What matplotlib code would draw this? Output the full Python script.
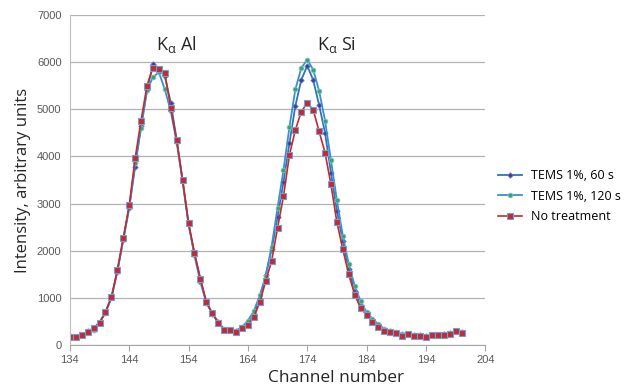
import matplotlib
matplotlib.use("Agg")
import matplotlib.pyplot as plt
import numpy as np

### Data

channels = np.arange(134, 201)

no_treatment = [
    178, 172, 207, 285, 357, 478, 700, 1013, 1585, 2270,
    2960, 3960, 4760, 5500, 5880, 5850, 5760, 5030, 4340, 3500,
    2590, 1950, 1410, 914, 678, 478, 321, 325, 285, 357,
    435, 593, 906, 1356, 1784, 2484, 3154, 4030, 4560, 4950,
    5130, 4990, 4530, 4080, 3405, 2606, 2030, 1500, 1070, 785,
    642, 500, 392, 306, 285, 250, 200, 235, 200, 200,
    171, 214, 207, 221, 235, 292, 264,
]

tems_60 = [
    180, 175, 210, 290, 360, 480, 705, 1010, 1570, 2240,
    2930, 3780, 4650, 5400, 5950, 5850, 5700, 5140, 4350, 3480,
    2570, 1930, 1390, 905, 670, 480, 330, 330, 300, 370,
    450, 650, 980, 1480, 2030, 2710, 3460, 4280, 5070, 5620,
    5920, 5620, 5090, 4500, 3650, 2850, 2200, 1620, 1150, 840,
    660, 520, 410, 330, 300, 265, 230, 240, 215, 210,
    190, 220, 215, 230, 250, 295, 270,
]

tems_120 = [
    185, 180, 215, 295, 330, 470, 690, 1000, 1560, 2230,
    2900, 3850, 4600, 5400, 5680, 5780, 5420, 4960, 4300, 3480,
    2560, 1900, 1330, 900, 670, 490, 340, 340, 310, 380,
    520, 720, 1055, 1460, 2090, 2910, 3710, 4620, 5420, 5870,
    6050, 5840, 5390, 4760, 3920, 3070, 2320, 1710, 1260, 930,
    700, 560, 440, 350, 310, 270, 240, 245, 225, 215,
    200, 225, 220, 230, 250, 300, 270,
]

series_labels = ["TEMS 1%, 60 s", "TEMS 1%, 120 s", "No treatment"]

# upright greek in the peak labels
plt.rcParams["mathtext.fontset"] = "custom"
plt.rcParams["mathtext.rm"] = "Open Sans"
plt.rcParams["mathtext.it"] = "Open Sans"

### Plot

fig = plt.figure(figsize=(6.41, 3.90), dpi=100)
ax = fig.add_axes([0.109, 0.115, 0.648, 0.847])

ax.plot(channels, tems_60, color="#2e75b6", lw=1.3, marker="D", ms=2.8,
        mfc="#3f3f9a", mec="#6a7fc0", mew=0.5, label=series_labels[0])
ax.plot(channels, tems_120, color="#3a8fd0", lw=1.3, marker="o", ms=3.4,
        mfc="#2fae55", mec="#8ab6e0", mew=0.6, label=series_labels[1])
ax.plot(channels, no_treatment, color="#c42a2f", lw=1.2, marker="s", ms=4.2,
        mfc="#c42a2f", mec="#6f9fd6", mew=0.8, label=series_labels[2])

ax.set_xlim(134, 204)
ax.set_ylim(0, 7000)
ax.set_xticks(np.arange(134, 205, 10))
ax.set_yticks(np.arange(0, 7001, 1000))
ax.yaxis.grid(True, color="#b3b3b3", lw=0.9)
ax.set_axisbelow(True)

for s in ["top", "right"]:
    ax.spines[s].set_visible(False)
ax.spines["left"].set_color("#bfbfbf")
ax.spines["bottom"].set_color("#a6a6a6")
ax.tick_params(axis="y", length=0, labelsize=8, labelcolor="#595959", pad=6)
ax.tick_params(axis="x", length=4, color="#a6a6a6", labelsize=8,
               labelcolor="#595959", pad=3)
for lab in ax.get_xticklabels() + ax.get_yticklabels():
    lab.set_family("Liberation Sans")

ax.set_xlabel("Channel number", fontsize=12.5, family="Open Sans",
              color="#262626", va="top")
ax.xaxis.set_label_coords(0.64, -0.075)
ax.set_ylabel("Intensity, arbitrary units", fontsize=12, family="Open Sans",
              color="#262626", labelpad=4)

ax.text(152, 6250, r"K$_\alpha$ Al", fontsize=13, family="Open Sans",
        ha="center", va="baseline", color="#262626")
ax.text(179, 6250, r"K$_\alpha$ Si", fontsize=13, family="Open Sans",
        ha="center", va="baseline", color="#262626")

fig.legend(loc="upper left", bbox_to_anchor=(0.76, 0.595), frameon=False,
           handlelength=1.9, handletextpad=0.7, labelspacing=0.6,
           prop={"family": "Open Sans", "size": 9})

fig.savefig("out.png", dpi=100)
